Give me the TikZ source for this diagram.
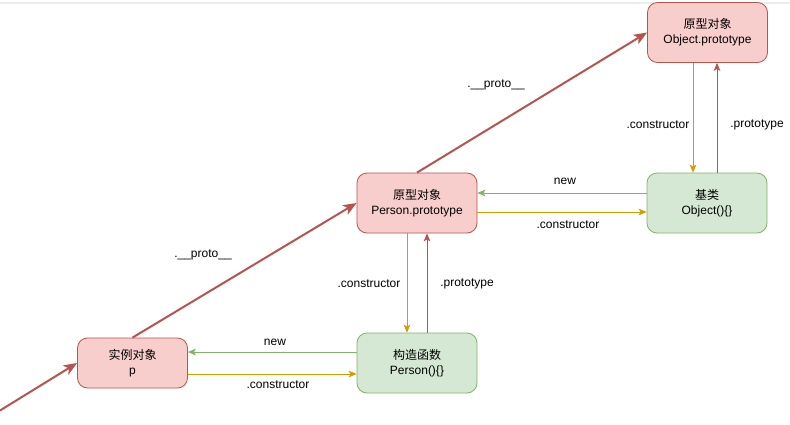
\documentclass[tikz,border=0pt]{standalone}
\usepackage{fontspec}
\setmainfont{Liberation Sans}
\newfontfamily\cjk{Noto Sans CJK SC}
\usetikzlibrary{arrows.meta}
\definecolor{rfill}{HTML}{F8CECC}
\definecolor{rline}{HTML}{B85450}
\definecolor{gfill}{HTML}{D5E8D4}
\definecolor{gline}{HTML}{82B366}
\definecolor{oline}{HTML}{D79B00}
\tikzset{
  redbox/.style={draw=rline, fill=rfill, rounded corners=7.5pt, minimum width=90pt, minimum height=45pt, align=center, font=\fontsize{9pt}{11pt}\selectfont, line width=0.6pt, inner sep=0pt},
  greenbox/.style={redbox, draw=gline, fill=gfill},
  thin arr/.style={line width=0.6pt, -{Stealth[length=6pt,width=5pt,inset=1.5pt]}},
  gr/.style={thin arr, draw=gline, color=gline},
  og/.style={thin arr, draw=oline, color=oline},
  rd/.style={thin arr, draw=rline, color=rline},
  proto/.style={line width=1.5pt, draw=rline, color=rline, -{Stealth[length=10pt,width=8pt,inset=2.5pt]}},
  lbl/.style={font=\fontsize{9pt}{10pt}\selectfont, text=black, inner sep=1pt}
}
\begin{document}
\begin{tikzpicture}[x=0.75pt,y=-0.75pt]
\useasboundingbox (0,0) rectangle (790,425);
\fill[white] (0,0) rectangle (790,425);
\draw[color=black!7, line width=1.5pt] (0,2.5) -- (790,2.5);
% nodes
\node[redbox] (op) at (707.5,32.5) {{\cjk 原型对象}\\Object.prototype};
\node[redbox] (pp) at (417,203) {{\cjk 原型对象}\\Person.prototype};
\node[greenbox] (base) at (707,203) {{\cjk 基类}\\Object()\{\}};
\node[greenbox] (ctor) at (417,363) {{\cjk 构造函数}\\Person()\{\}};
\node[redbox, minimum width=82.5pt, minimum height=37.5pt] (inst) at (132.5,363) {{\cjk 实例对象}\\p};
\coordinate (start) at (0,410.5);
% proto chain
\draw[proto] (start) -- (inst.west);
\draw[proto] (inst.north) -- (pp.west);
\draw[proto] (pp.north) -- (op.west);
\node[lbl] (pl1) at (203,255) {.\_\_proto\_\_};
\node[lbl] (pl2) at (496,85) {.\_\_proto\_\_};
% ctor <-> inst
\draw[gr] (ctor.west |- 0,352) -- (inst.east |- 0,352);
\node[lbl] at (275,342) {new};
\draw[og] (inst.east |- 0,374) -- (ctor.west |- 0,374);
\node[lbl] at (278,385) {.constructor};
% pp <-> ctor
\draw[og] (pp.south -| 407,0) -- (ctor.north -| 407,0);
\node[lbl] at (369,284) {.constructor};
\draw[rd] (ctor.north -| 427,0) -- (pp.south -| 427,0);
\node[lbl] at (467,284) {.prototype};
% base <-> pp
\draw[gr] (base.west |- 0,193) -- (pp.east |- 0,193);
\node[lbl] at (565,181) {new};
\draw[og] (pp.east |- 0,212) -- (base.west |- 0,212);
\node[lbl] at (568,225) {.constructor};
% op <-> base
\draw[og] (op.south -| 693,0) -- (base.north -| 693,0);
\node[lbl] at (658,125) {.constructor};
\draw[rd] (base.north -| 717,0) -- (op.south -| 717,0);
\node[lbl] at (757,125) {.prototype};
\end{tikzpicture}
\end{document}
